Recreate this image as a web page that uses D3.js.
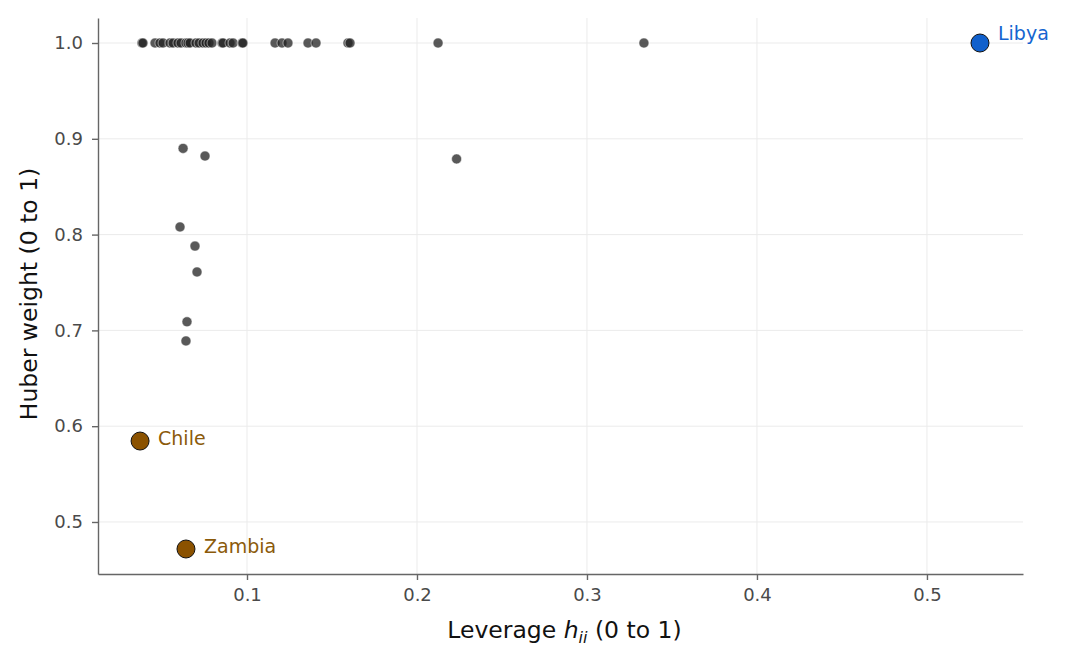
<!DOCTYPE html>
<html>
<head>
<meta charset="utf-8">
<script src="https://cdn.jsdelivr.net/npm/d3@7"></script>
<style>
  body { margin: 0; background: #fff; }
  text { font-family: "DejaVu Sans", sans-serif; }
</style>
</head>
<body>
<div id="chart"></div>
<script>
// leverage (h_ii) and Huber weight per country
const leverage = [
  0.0382, 0.0388, 0.0459, 0.0488, 0.0506, 0.0547, 0.0565, 0.0594, 0.0612, 0.0641,
  0.0653, 0.0665, 0.0700, 0.0718, 0.0741, 0.0759, 0.0776, 0.0794, 0.0853, 0.0859,
  0.0900, 0.0918, 0.0971, 0.0976, 0.1165, 0.1206, 0.1241, 0.1359, 0.1406, 0.1594,
  0.1606, 0.2124, 0.3335,
  0.0624, 0.0753, 0.2233, 0.0606, 0.0694, 0.0706, 0.0647, 0.0641
];
const weight = [
  1, 1, 1, 1, 1, 1, 1, 1, 1, 1,
  1, 1, 1, 1, 1, 1, 1, 1, 1, 1,
  1, 1, 1, 1, 1, 1, 1, 1, 1, 1,
  1, 1, 1,
  0.890, 0.882, 0.879, 0.808, 0.788, 0.761, 0.709, 0.689
];

// highlighted countries
const hlNames = ["Libya", "Chile", "Zambia"];
const hlLeverage = [0.5312, 0.0371, 0.0641];
const hlWeight = [1.0, 0.5845, 0.4718];
const hlGroup = ["high", "low", "low"];

const xTicks = [0.1, 0.2, 0.3, 0.4, 0.5];
const yTicks = [0.5, 0.6, 0.7, 0.8, 0.9, 1.0];

const W = 1067, H = 663;
const margin = { top: 18, right: 44, bottom: 89, left: 98 };
const width = W - margin.left - margin.right;
const height = H - margin.top - margin.bottom;

const colors = { high: "#1060cc", low: "#8b5200" };
const labelColors = { high: "#1565d0", low: "#8b5a0a" };

const svg = d3.select("#chart").append("svg")
  .attr("width", W)
  .attr("height", H);

const x = d3.scaleLinear().domain([0.01235, 0.5565]).range([0, width]);
const y = d3.scaleLinear().domain([0.4457, 1.0261]).range([height, 0]);

const chart = svg.append("g")
  .attr("transform", "translate(" + margin.left + "," + margin.top + ")");

// grid
chart.append("g").selectAll("line")
  .data(xTicks).enter().append("line")
  .attr("x1", d => x(d)).attr("x2", d => x(d))
  .attr("y1", 0).attr("y2", height)
  .attr("stroke", "#ebebeb").attr("stroke-width", 1);
chart.append("g").selectAll("line")
  .data(yTicks).enter().append("line")
  .attr("y1", d => y(d)).attr("y2", d => y(d))
  .attr("x1", 0).attr("x2", width)
  .attr("stroke", "#ebebeb").attr("stroke-width", 1);

// axes
const xAxis = chart.append("g")
  .attr("transform", "translate(0," + height + ")")
  .call(d3.axisBottom(x).tickValues(xTicks).tickFormat(d3.format(".1f"))
    .tickSizeInner(6).tickSizeOuter(0).tickPadding(8));
const yAxis = chart.append("g")
  .call(d3.axisLeft(y).tickValues(yTicks).tickFormat(d3.format(".1f"))
    .tickSizeInner(6).tickSizeOuter(0).tickPadding(9));

[xAxis, yAxis].forEach(a => {
  a.attr("font-size", null).attr("font-family", null);
  a.select(".domain").attr("stroke", "#666").attr("stroke-width", 1.4);
  a.selectAll(".tick line").attr("stroke", "#666").attr("stroke-width", 1.4);
  a.selectAll(".tick text")
    .attr("fill", "#4a4a4a")
    .style("font-size", "18px");
});

// regular points
const pts = leverage.map((d, i) => ({ h: d, w: weight[i] }));
chart.append("g").selectAll("circle")
  .data(pts).enter().append("circle")
  .attr("cx", d => x(d.h))
  .attr("cy", d => y(d.w))
  .attr("r", 5)
  .attr("fill", "#222")
  .attr("fill-opacity", 0.75)
  .attr("stroke", "#fff")
  .attr("stroke-width", 0.5);

// highlighted points
const hl = hlNames.map((n, i) => ({ name: n, h: hlLeverage[i], w: hlWeight[i], g: hlGroup[i] }));
chart.append("g").selectAll("circle")
  .data(hl).enter().append("circle")
  .attr("cx", d => x(d.h))
  .attr("cy", d => y(d.w))
  .attr("r", 9)
  .attr("fill", d => colors[d.g])
  .attr("stroke", "#111")
  .attr("stroke-width", 1);

chart.append("g").selectAll("text")
  .data(hl).enter().append("text")
  .attr("x", d => x(d.h) + 18)
  .attr("y", d => y(d.w) + (d.g === "high" ? -10 : -2.5))
  .attr("dy", "0.35em")
  .attr("fill", d => labelColors[d.g])
  .style("font-size", "19px")
  .text(d => d.name);

// axis titles
const xl = svg.append("text")
  .attr("x", margin.left + width / 2 + 4)
  .attr("y", 638)
  .attr("text-anchor", "middle")
  .style("font-size", "23.5px")
  .attr("fill", "#111");
xl.append("tspan").text("Leverage ");
xl.append("tspan").style("font-style", "italic").text("h");
xl.append("tspan").style("font-style", "italic").style("font-size", "16px").attr("dy", 5).text("ii");
xl.append("tspan").attr("dy", -5).text(" (0 to 1)");

svg.append("text")
  .attr("transform", "translate(37," + 294 + ") rotate(-90)")
  .attr("text-anchor", "middle")
  .style("font-size", "23.5px")
  .attr("fill", "#111")
  .text("Huber weight (0 to 1)");
</script>
</body>
</html>
